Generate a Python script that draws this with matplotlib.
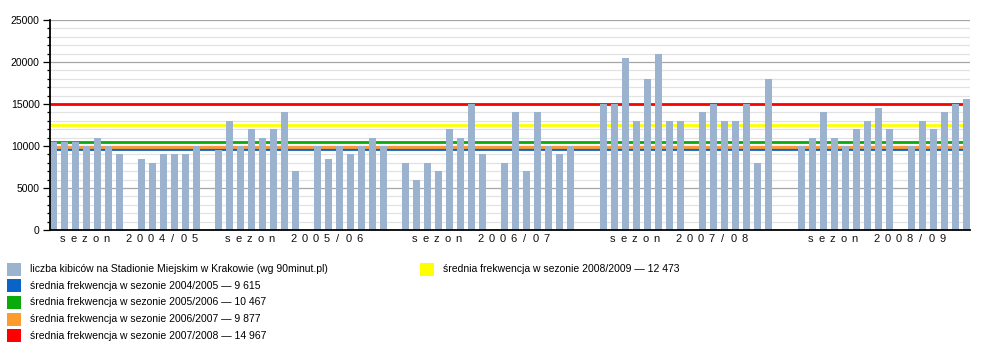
import numpy as np
import matplotlib
matplotlib.use("Agg")
import matplotlib.pyplot as plt
from matplotlib.patches import Rectangle
from matplotlib.ticker import MultipleLocator

plt.rcParams['font.family'] = ['Liberation Sans', 'DejaVu Sans']

# ---- data (None = no home match in that slot) ----
season_labels = ["sezon 2004/05", "sezon 2005/06", "sezon 2006/07", "sezon 2007/08", "sezon 2008/09"]
season_2004_05 = [10500, 10500, 10500, 10000, 11000, 10000, 9000, None,
                  8500, 8000, 9000, 9000, 9000, 10000, None]
season_2005_06 = [9500, 13000, 10000, 12000, 11000, 12000, 14000, 7000, None,
                  10000, 8500, 10000, 9000, 10000, 11000, 10000, None]
season_2006_07 = [8000, 6000, 8000, 7000, 12000, 11000, 15000, 9000, None,
                  8000, 14000, 7000, 14000, 10000, 9000, 10000, None, None]
season_2007_08 = [15000, 15000, 20500, 13000, 18000, 21000, 13000, 13000, None,
                  14000, 15000, 13000, 13000, 15000, 8000, 18000, None, None]
season_2008_09 = [10000, 11000, 14000, 11000, 10000, 12000, 13000, 14500, 12000, None,
                  10000, 13000, 12000, 14000, 15000, 15600]
seasons = [season_2004_05, season_2005_06, season_2006_07, season_2007_08, season_2008_09]

avg_values = [9615, 10467, 9877, 14967, 12473]
avg_labels = [
    "średnia frekwencja w sezonie 2004/2005 — 9 615",
    "średnia frekwencja w sezonie 2005/2006 — 10 467",
    "średnia frekwencja w sezonie 2006/2007 — 9 877",
    "średnia frekwencja w sezonie 2007/2008 — 14 967",
    "średnia frekwencja w sezonie 2008/2009 — 12 473",
]
bar_label = "liczba kibiców na Stadionie Miejskim w Krakowie (wg 90minut.pl)"

# ---- styles ----
bar_color = "#9bb3cf"
avg_colors = ["#0a64c8", "#0aaa0a", "#ff9a2e", "#ff0000", "#ffff00"]

attendance = [v for s in seasons for v in s]
season_starts = np.cumsum([0] + [len(s) for s in seasons[:-1]])
n = len(attendance)
xs = [i for i, v in enumerate(attendance) if v is not None]
vals = [v for v in attendance if v is not None]

W, H = 1000, 350
fig = plt.figure(figsize=(W / 100, H / 100), dpi=100)
ax = fig.add_axes([50 / W, 120 / H, 920 / W, 210 / H])

ax.bar(xs, vals, width=0.6, color=bar_color, linewidth=0, zorder=3)
for v, c in zip(avg_values, avg_colors):
    ax.axhline(v, color=c, lw=2, zorder=2)

ax.set_ylim(0, 25000)
ax.set_xlim(-0.32, n - 1 + 0.34)
ax.yaxis.set_major_locator(MultipleLocator(5000))
ax.yaxis.set_minor_locator(MultipleLocator(1000))
ax.grid(which='major', axis='y', color='#a6a6a6', lw=0.9, zorder=0)
ax.grid(which='minor', axis='y', color='#e2e2e2', lw=0.9, zorder=0)
ax.set_axisbelow(True)
for s in ['top', 'right']:
    ax.spines[s].set_visible(False)
for s in ['left', 'bottom']:
    ax.spines[s].set_color('black')
    ax.spines[s].set_linewidth(1.3)
    ax.spines[s].set_zorder(4)
ax.set_xticks([])
ax.tick_params(axis='y', which='major', length=5, width=0.9, pad=2.5, labelsize=7.5, colors='black')
ax.tick_params(axis='y', which='minor', length=2.4, width=0.9)

# season labels, letter-spaced one character per slot
for start, lab in zip(season_starts, season_labels):
    for k, ch in enumerate(lab):
        if ch != ' ':
            ax.text(start + 0.82 + k, -0.044, ch, transform=ax.get_xaxis_transform(),
                    ha='center', va='center', fontsize=8, color='#111111')

# legend (manual)
def legend_item(px, py, color, text):
    fig.add_artist(Rectangle((px / W, 1 - (py + 6.5) / H), 14 / W, 13 / H,
                             transform=fig.transFigure, facecolor=color, edgecolor='none'))
    fig.text((px + 23) / W, 1 - py / H, text, ha='left', va='center', fontsize=7.5, color='black')

rows = [269, 285.7, 302.3, 319, 335.7]
legend_item(7, rows[0], bar_color, bar_label)
for r, c, t in zip(rows[1:], avg_colors[:4], avg_labels[:4]):
    legend_item(7, r, c, t)
legend_item(420, rows[0], avg_colors[4], avg_labels[4])

fig.savefig("out.png", dpi=100)
